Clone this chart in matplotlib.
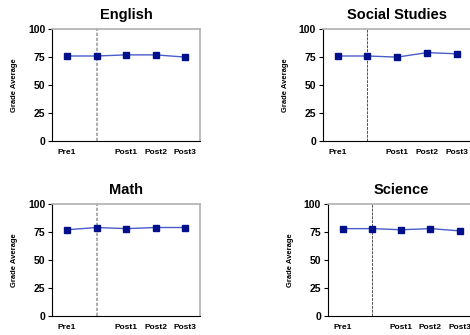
import matplotlib
matplotlib.use("Agg")
import matplotlib.pyplot as plt

plt.rcParams["font.family"] = ["Liberation Sans", "DejaVu Sans"]

categories = ["Pre1", "", "Post1", "Post2", "Post3"]
subjects = ["English", "Social Studies", "Math", "Science"]
english = [76, 76, 77, 77, 75]
social_studies = [76, 76, 75, 79, 78]
math_vals = [77, 79, 78, 79, 79]
science = [78, 78, 77, 78, 76]
series = [english, social_studies, math_vals, science]
yticks = [0, 25, 50, 75, 100]

fig = plt.figure(figsize=(4.7, 3.35), dpi=100)
positions = [
    [0.111, 0.579, 0.315, 0.334],
    [0.687, 0.579, 0.316, 0.334],
    [0.111, 0.057, 0.315, 0.334],
    [0.698, 0.057, 0.311, 0.334],
]
vline_styles = [
    dict(color="#a0a0a0", lw=1.2, ls=(0, (2, 1))),
    dict(color="#505050", lw=0.7, ls=(0, (3, 1))),
    dict(color="#a0a0a0", lw=1.2, ls=(0, (2, 1))),
    dict(color="#505050", lw=0.7, ls=(0, (3, 1))),
]

for i, (name, vals, pos) in enumerate(zip(subjects, series, positions)):
    ax = fig.add_axes(pos)
    x = list(range(len(categories)))
    ax.axvline(1, **vline_styles[i], zorder=1)
    ax.plot(x, vals, color="#4a5cc8", lw=1.0, marker="s", markersize=5,
            markerfacecolor="#00108a", markeredgecolor="#00108a", zorder=3)
    ax.set_xlim(-0.5, 4.5)
    ax.set_ylim(0, 100)
    ax.set_yticks(yticks)
    ax.set_yticklabels([str(t) for t in yticks], fontsize=7.5, fontweight="bold")
    ax.set_xticks(x)
    ax.set_xticklabels(categories, fontsize=6, fontweight="bold")
    ax.tick_params(axis="x", length=0, pad=6)
    ax.tick_params(axis="y", length=3, width=0.8, pad=2)
    ax.set_title(name, fontsize=10.5, fontweight="bold", pad=7)
    ax.set_ylabel("Grade Average", fontsize=5.5, fontweight="bold", labelpad=7)
    ax.spines["left"].set_color("black")
    ax.spines["bottom"].set_color("black")
    ax.spines["top"].set_color("#b0b0b0")
    ax.spines["right"].set_color("#b0b0b0")
    for s in ["top", "right"]:
        ax.spines[s].set_linewidth(1.2)

fig.savefig("out.png", dpi=100)
